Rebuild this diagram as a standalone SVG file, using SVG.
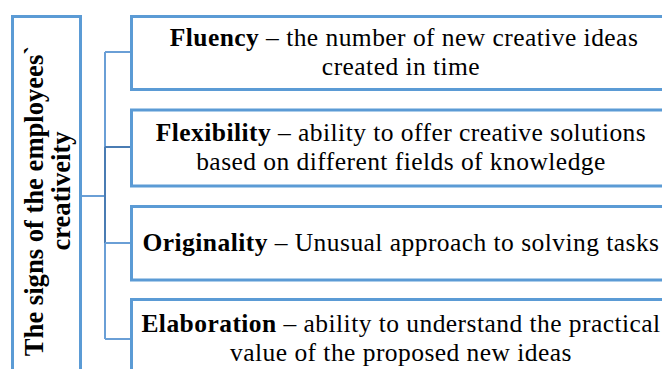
<svg xmlns="http://www.w3.org/2000/svg" width="662" height="369" viewBox="0 0 662 369">
<style>
.box{fill:#fff;stroke:#5b9bd5;stroke-width:3}
.t{font-family:'Liberation Serif','Times New Roman',serif;font-size:25.5px;letter-spacing:0.45px;fill:#000;text-anchor:middle}
.r{font-family:'Liberation Serif','Times New Roman',serif;font-size:26.6px;font-weight:bold;fill:#000;text-anchor:middle}
.b{font-weight:bold}
.c{fill:none;stroke:#6a9fd6;stroke-width:2}
.cd{fill:none;stroke:#4a7cb3;stroke-width:2}
</style>
<rect width="662" height="369" fill="#fff"/>
<g id="connectors">
<line class="c" x1="81" y1="196" x2="105" y2="196"/>
<line class="c" x1="105" y1="52" x2="105" y2="339"/>
<line class="cd" x1="105" y1="147" x2="105" y2="243"/>
<line class="c" x1="105" y1="52" x2="131" y2="52"/>
<line class="cd" x1="105" y1="147" x2="131" y2="147"/>
<line class="c" x1="105" y1="243" x2="131" y2="243"/>
<line class="c" x1="105" y1="339" x2="131" y2="339"/>
</g>
<g id="root">
<rect class="box" x="12.5" y="16.5" width="68" height="360"/>
<text class="r" transform="translate(43,201) rotate(-90)"><tspan x="0" y="0">The signs of the employees`</tspan><tspan x="10" y="27">creativeity</tspan></text>
</g>
<g id="fluency">
<rect class="box" x="131.5" y="16.5" width="545" height="73"/>
<text class="t"><tspan x="404" y="45.5"><tspan class="b">Fluency</tspan> – the number of new creative ideas</tspan><tspan x="401" y="74.5">created in time</tspan></text>
</g>
<g id="flexibility">
<rect class="box" x="131.5" y="110" width="545" height="76"/>
<text class="t"><tspan x="401" y="140.5"><tspan class="b">Flexibility</tspan> – ability to offer creative solutions</tspan><tspan x="401" y="169.5">based on different fields of knowledge</tspan></text>
</g>
<g id="originality">
<rect class="box" x="131.5" y="206.5" width="545" height="73.5"/>
<text class="t" x="401" y="251"><tspan class="b">Originality</tspan> – Unusual approach to solving tasks</text>
</g>
<g id="elaboration">
<rect class="box" x="131.5" y="299.5" width="545" height="80"/>
<text class="t"><tspan x="401" y="331.5"><tspan class="b">Elaboration</tspan> – ability to understand the practical</tspan><tspan x="401" y="360.5">value of the proposed new ideas</tspan></text>
</g>
</svg>
